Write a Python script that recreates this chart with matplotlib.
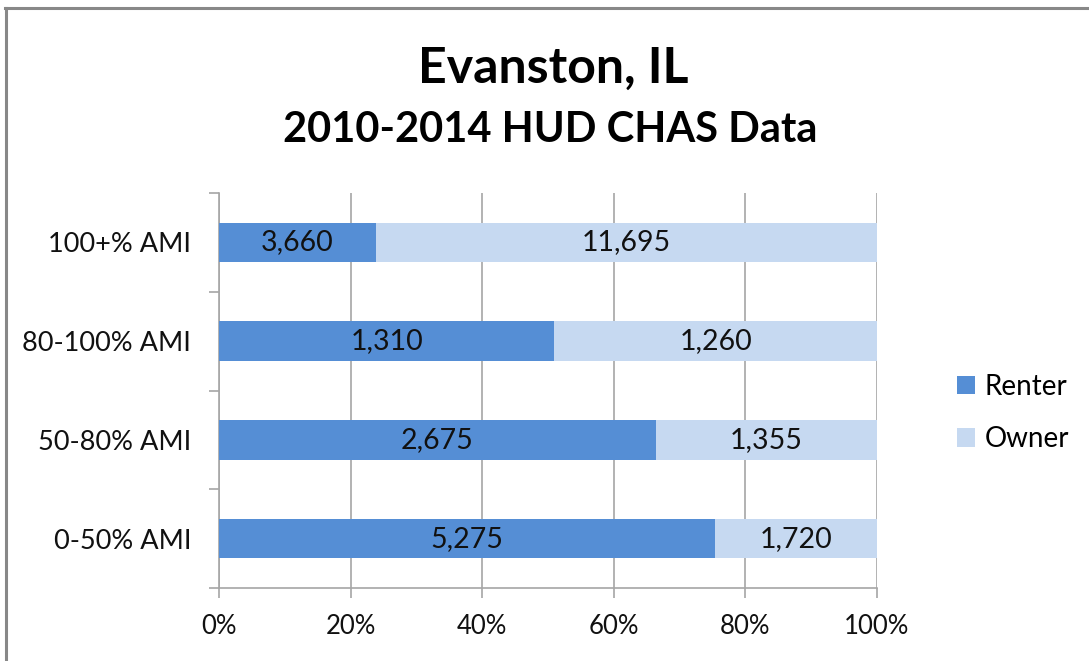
import matplotlib.pyplot as plt
from matplotlib.lines import Line2D
from matplotlib.ticker import FixedLocator
import numpy as np

plt.rcParams['font.family'] = ['Lato', 'DejaVu Sans']

categories = ['0-50% AMI', '50-80% AMI', '80-100% AMI', '100+% AMI']
renter = [5275, 2675, 1310, 3660]
owner = [1720, 1355, 1260, 11695]
x_ticks = [0, 20, 40, 60, 80, 100]

renter_color = '#558ed5'
owner_color = '#c6d9f1'
grid_color = '#a6a6a6'

renter_a = np.array(renter, dtype=float)
owner_a = np.array(owner, dtype=float)
total = renter_a + owner_a
renter_pct = renter_a / total * 100
owner_pct = owner_a / total * 100

fig = plt.figure(figsize=(10.89, 6.61), dpi=100)
ax = fig.add_axes([219 / 1089, 1 - 588 / 661, (877 - 219) / 1089, (588 - 193) / 661])

y = np.arange(len(categories))
bar_h = 0.4
b1 = ax.barh(y, renter_pct, height=bar_h, color=renter_color, label='Renter', zorder=3)
b2 = ax.barh(y, owner_pct, left=renter_pct, height=bar_h, color=owner_color, label='Owner', zorder=3)

for i in range(len(categories)):
    ax.text(renter_pct[i] / 2, y[i], f'{renter[i]:,}', ha='center', va='center',
            fontsize=20.5, color='#111111', zorder=4)
    ax.text(renter_pct[i] + owner_pct[i] / 2, y[i], f'{owner[i]:,}', ha='center', va='center',
            fontsize=20.5, color='#111111', zorder=4)

ax.set_xlim(0, 100)
ax.set_ylim(-0.5, len(categories) - 0.5)
ax.set_xticks(x_ticks)
ax.set_xticklabels([f'{t}%' for t in x_ticks], fontsize=18.5, color='#111111')
ax.yaxis.set_major_locator(FixedLocator(np.arange(-0.5, len(categories), 1.0)))
ax.yaxis.set_minor_locator(FixedLocator(y))
ax.set_yticklabels([], minor=False)
ax.set_yticklabels(categories, minor=True, fontsize=19.5, color='#111111')
ax.tick_params(axis='y', which='major', length=7, color=grid_color, width=1.2)
ax.tick_params(axis='y', which='minor', length=0, pad=20)
ax.tick_params(axis='x', length=7, color=grid_color, width=1.2, pad=12)

ax.grid(axis='x', color=grid_color, linewidth=1.2, zorder=0)
for s in ['top', 'right']:
    ax.spines[s].set_visible(False)
for s in ['left', 'bottom']:
    ax.spines[s].set_color(grid_color)
    ax.spines[s].set_linewidth(1.2)

fig.legend(handles=[b1, b2], labels=['Renter', 'Owner'], loc='center left',
           bbox_to_anchor=(932 / 1089, 1 - 413 / 661), frameon=False, fontsize=20,
           handlelength=0.65, handleheight=0.65, handletextpad=0.35, labelspacing=0.95)

fig.text(553 / 1089, 1 - 68 / 661, 'Evanston, IL', ha='center', va='center',
         fontsize=36, fontweight='bold')
fig.text(550 / 1089, 1 - 130 / 661, '2010-2014 HUD CHAS Data', ha='center', va='center',
         fontsize=30, fontweight='bold')

# chart outer frame (only left and top edges visible)
fig.add_artist(Line2D([6 / 1089, 6 / 1089], [0, 1 - 8 / 661], transform=fig.transFigure,
                      color='#888888', linewidth=2.2))
fig.add_artist(Line2D([5 / 1089, 1], [1 - 8 / 661, 1 - 8 / 661], transform=fig.transFigure,
                      color='#888888', linewidth=2.2))

fig.savefig('out.png', dpi=100, facecolor='white')
